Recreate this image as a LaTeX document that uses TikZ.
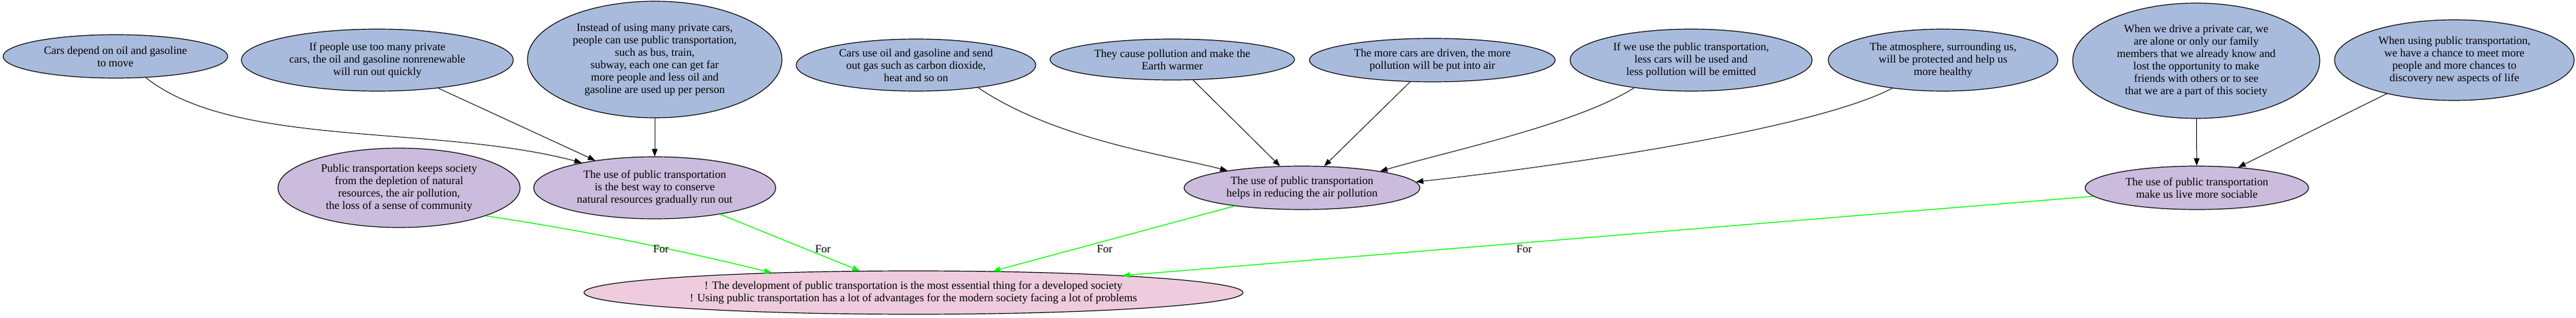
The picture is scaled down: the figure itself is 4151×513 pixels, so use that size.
\documentclass[tikz,border=0pt]{standalone}
\usepackage{fontspec}
\setmainfont{Liberation Serif}
\usetikzlibrary{shapes.geometric,arrows.meta}
\definecolor{nblue}{RGB}{169,187,221}
\definecolor{npurple}{RGB}{203,188,221}
\definecolor{npink}{RGB}{238,204,222}
\definecolor{lime}{RGB}{0,255,0}
\begin{document}
\begin{tikzpicture}[x=1pt,y=-1pt,
  every node/.style={font=\fontsize{18}{20}\selectfont},
  blob/.style={ellipse,draw=black,line width=1.2pt,inner sep=0pt,align=center},
  premise/.style={blob,fill=nblue},
  claim/.style={blob,fill=npurple},
  thesis/.style={blob,fill=npink},
  arr/.style={-{Triangle[length=12pt,width=9pt]},line width=1pt,draw=black},
  pro/.style={-{Triangle[length=12pt,width=9pt]},line width=1.4pt,draw=lime},
  forlab/.style={inner sep=0pt}]
\useasboundingbox (0,0) rectangle (4151,513);

% top row
\node[premise,minimum width=362pt,minimum height=70pt] (n1) at (186,91) {Cars depend on oil and gasoline\\to move};
\node[premise,minimum width=438pt,minimum height=100pt] (n2) at (608,97) {If people use too many private\\cars, the oil and gasoline nonrenewable\\will run out quickly};
\node[premise,minimum width=410pt,minimum height=188pt] (n3) at (1055,96) {Instead of using many private cars,\\people can use public transportation,\\such as bus, train,\\subway, each one can get far\\more people and less oil and\\gasoline are used up per person};
\node[premise,minimum width=386pt,minimum height=84pt] (n4) at (1476,105) {Cars use oil and gasoline and send\\out gas such as carbon dioxide,\\heat and so on};
\node[premise,minimum width=394pt,minimum height=66pt] (n5) at (1889,96) {They cause pollution and make the\\Earth warmer};
\node[premise,minimum width=396pt,minimum height=70pt] (n6) at (2308,97) {The more cars are driven, the more\\pollution will be put into air};
\node[premise,minimum width=390pt,minimum height=100pt] (n7) at (2725,97) {If we use the public transportation,\\less cars will be used and\\less pollution will be emitted};
\node[premise,minimum width=370pt,minimum height=100pt] (n8) at (3131,97) {The atmosphere, surrounding us,\\will be protected and help us\\more healthy};
\node[premise,minimum width=398pt,minimum height=186pt] (n9) at (3539,98) {When we drive a private car, we\\are alone or only our family\\members that we already know and\\lost the opportunity to make\\friends with others or to see\\that we are a part of this society};
\node[premise,minimum width=386pt,minimum height=130pt] (n10) at (3955,97) {When using public transportation,\\we have a chance to meet more\\people and more chances to\\discovery new aspects of life};

% middle row
\node[claim,minimum width=390pt,minimum height=128pt] (A) at (643,303) {Public transportation keeps society\\from the depletion of natural\\resources, the air pollution,\\the loss of a sense of community};
\node[claim,minimum width=390pt,minimum height=100pt] (B) at (1055,303) {The use of public transportation\\is the best way to conserve\\natural resources gradually run out};
\node[claim,minimum width=380pt,minimum height=70pt] (C) at (2098,303) {The use of public transportation\\helps in reducing the air pollution};
\node[claim,minimum width=360pt,minimum height=70pt] (D) at (3540,303) {The use of public transportation\\make us live more sociable};

% bottom
\node[thesis,minimum width=1062pt,minimum height=70pt] (T) at (1472,472) {! The development of public transportation is the most essential thing for a developed society\\! Using public transportation has a lot of advantages for the modern society facing a lot of problems};

% black edges
\draw[arr] (n1.-35.5) .. controls (380,240) and (700,200) .. (B.161.4);
\draw[arr] (n2) -- (B);
\draw[arr] (n3) -- (B);
\draw[arr] (n4.-20.8) .. controls (1700,225) and (1880,250) .. (C.167.3);
\draw[arr] (n5) -- (C);
\draw[arr] (n6) -- (C);
\draw[arr] (n7.206.6) .. controls (2540,200) and (2350,240) .. (C.12.6);
\draw[arr] (n8.209.3) .. controls (2920,210) and (2500,270) .. (C.3);
\draw[arr] (n9) -- (D);
\draw[arr] (n10) -- (D);

% green edges
\draw[pro] (A.-18.7) .. controls (930,370) and (1080,400) .. (T.172.4);
\draw[pro] (B) -- (T);
\draw[pro] (C) -- (T);
\draw[pro] (D) -- (T);

% labels
\node[forlab] (l1) at (1065,402) {For};
\node[forlab] (l2) at (1326,402) {For};
\node[forlab] (l3) at (1780,402) {For};
\node[forlab] (l4) at (2456,402) {For};
\end{tikzpicture}
\end{document}
